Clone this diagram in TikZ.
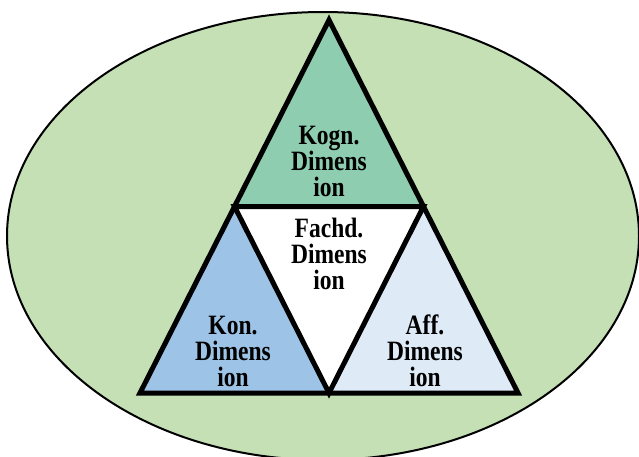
\documentclass[tikz,border=0pt]{standalone}
\usepackage{fontspec}
\newfontfamily\lblfont[FakeStretch=0.84]{Liberation Serif}
\definecolor{bggreen}{HTML}{C5E0B4}
\definecolor{cogn}{HTML}{8ECDB0}
\definecolor{kon}{HTML}{9DC3E6}
\definecolor{aff}{HTML}{DEEBF7}
\tikzset{
  tri/.style={draw=black,line width=5pt,line join=miter,miter limit=10},
  lbl/.style={align=center,inner sep=0pt,anchor=center,
    font=\lblfont\bfseries\fontsize{28}{26}\selectfont}
}
\begin{document}
\begin{tikzpicture}[x=1pt,y=-1pt]
\useasboundingbox (0,0) rectangle (639,456);
\clip (0,0) rectangle (639,456);
\fill[white] (0,0) rectangle (639,456);
\draw[fill=bggreen,line width=2pt] (323,236) ellipse [x radius=316,y radius=224];
\coordinate (A) at (329,20);
\coordinate (B) at (140,393);
\coordinate (C) at (518,393);
\coordinate (AB) at (234.5,206.5);
\coordinate (AC) at (423.5,206.5);
\coordinate (BC) at (329,393);
\fill[cogn] (A) -- (AB) -- (AC) -- cycle;
\fill[kon] (B) -- (AB) -- (BC) -- cycle;
\fill[aff] (C) -- (AC) -- (BC) -- cycle;
\fill[white] (AB) -- (AC) -- (BC) -- cycle;
\draw[tri] (A) -- (B) -- (C) -- cycle;
\draw[tri] (AB) -- (AC) -- (BC) -- cycle;
\node[lbl] (kogn) at (329,161.5) {Kogn.\\Dimens\\ion};
\node[lbl] (fachd) at (329,254) {Fachd.\\Dimens\\ion};
\node[lbl] (konl) at (233,351) {Kon.\\Dimens\\ion};
\node[lbl] (affl) at (425,351) {Aff.\\Dimens\\ion};
\end{tikzpicture}
\end{document}
